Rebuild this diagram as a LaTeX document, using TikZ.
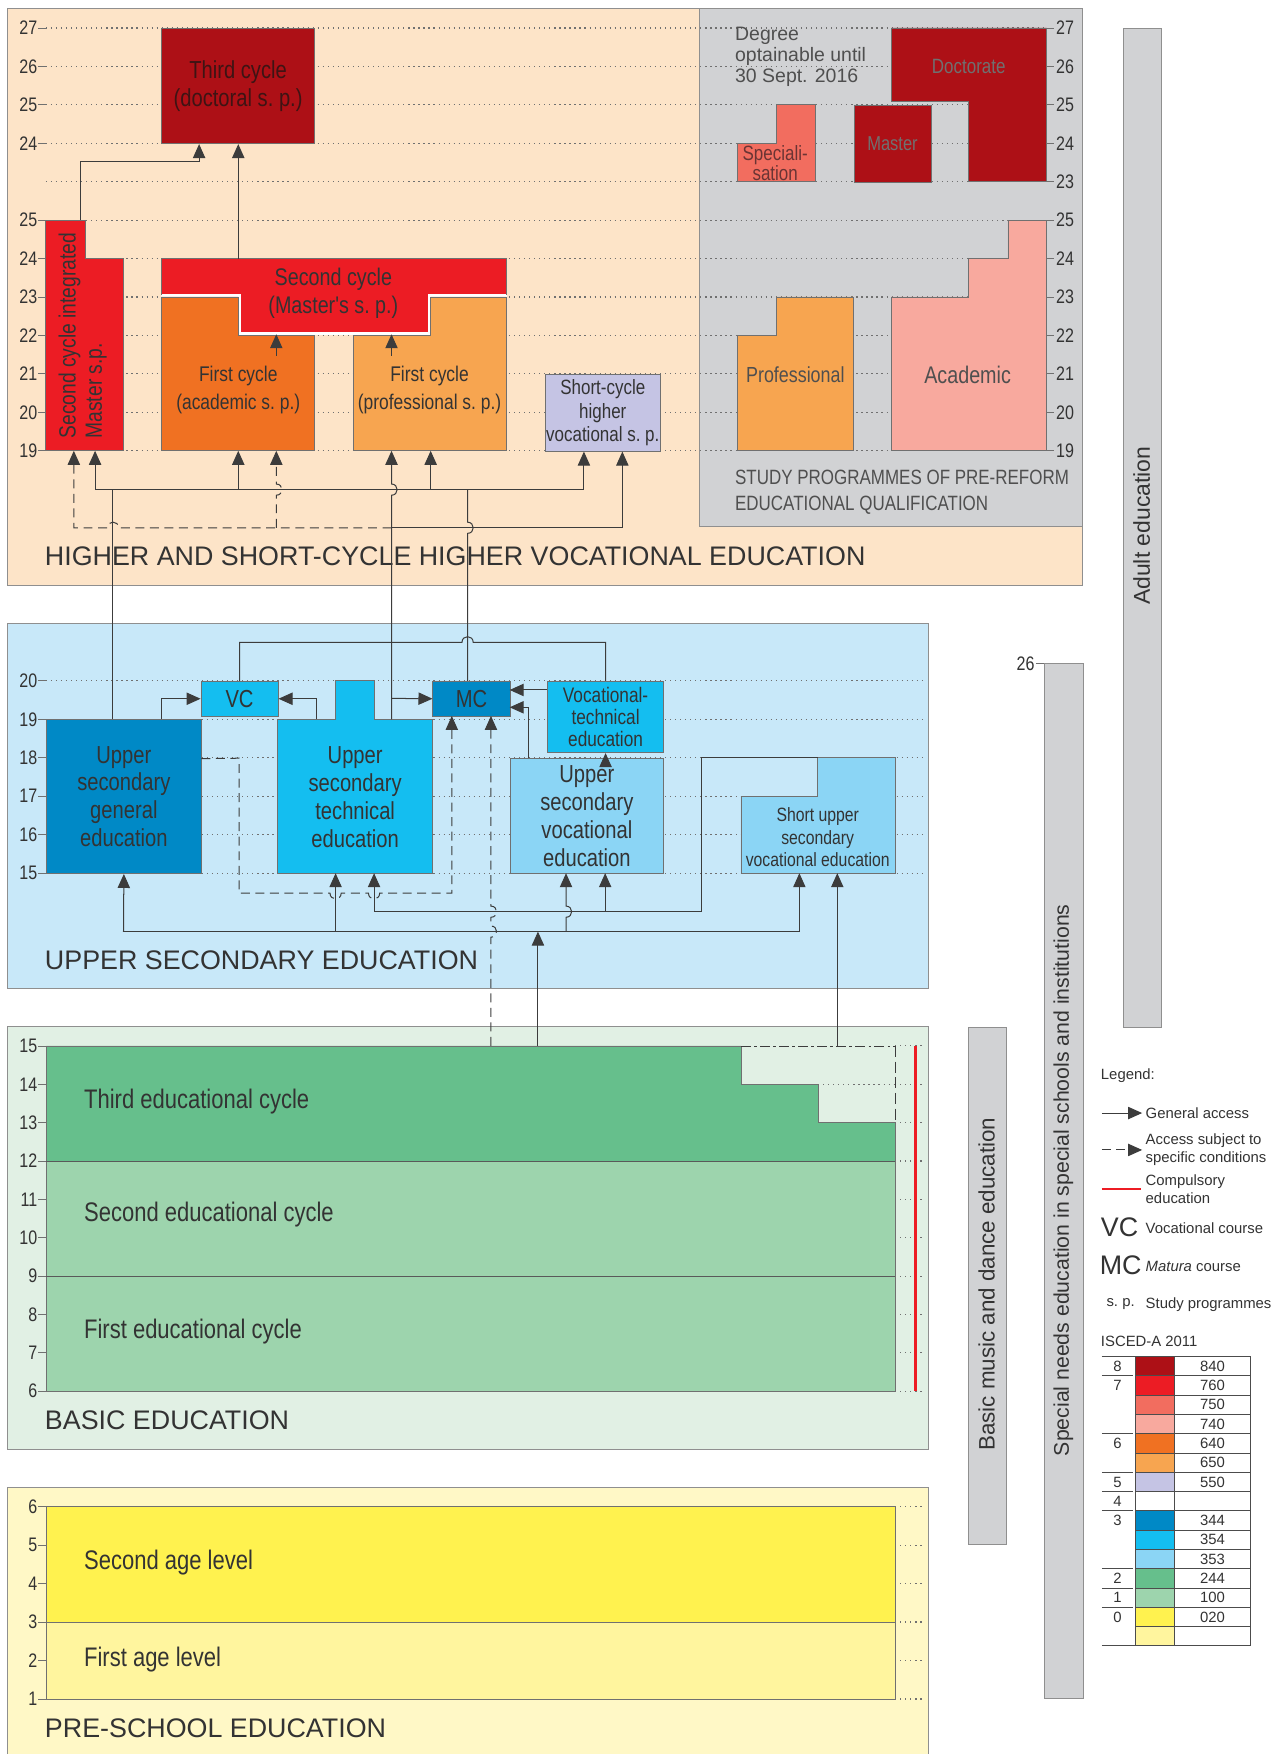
\documentclass[tikz,border=0pt]{standalone}
\usepackage{fontspec}
\setmainfont{Liberation Sans}
\newfontfamily\narrowfam[FakeStretch=0.82]{Liberation Sans}
\usetikzlibrary{arrows.meta,positioning,calc}

\newcommand\nfs[2]{\narrowfam\fontsize{#1}{#2}\selectfont}
\newcommand\pfs[2]{\fontsize{#1}{#2}\selectfont}

% ISCED colours
\definecolor{c840}{HTML}{AD1016}
\definecolor{c760}{HTML}{EC1C24}
\definecolor{c750}{HTML}{F26D5F}
\definecolor{c740}{HTML}{F8A99E}
\definecolor{c640}{HTML}{F07122}
\definecolor{c650}{HTML}{F7A550}
\definecolor{c550}{HTML}{C5C4E4}
\definecolor{c344}{HTML}{0089C6}
\definecolor{c354}{HTML}{14BEF0}
\definecolor{c353}{HTML}{8BD5F5}
\definecolor{c244}{HTML}{66BF8C}
\definecolor{c100}{HTML}{9DD4AD}
\definecolor{c020}{HTML}{FFF24F}
\definecolor{c010}{HTML}{FFF59E}
% backgrounds and lines
\definecolor{bgHigh}{HTML}{FDE4C8}
\definecolor{bgPre}{HTML}{D1D2D4}
\definecolor{bgUpper}{HTML}{C8E8F9}
\definecolor{bgBasic}{HTML}{E1F0E4}
\definecolor{bgSchool}{HTML}{FFF8C6}
\definecolor{txt}{HTML}{333333}
\definecolor{txtgray}{HTML}{4F4F4F}
\definecolor{txtdark}{HTML}{3E1414}
\definecolor{txtmuted}{HTML}{707070}
\definecolor{txtspec}{HTML}{6A3434}
\definecolor{pnl}{HTML}{8F8F8F}
\definecolor{bdr}{HTML}{707070}
\definecolor{lnc}{HTML}{3C3C3C}
\definecolor{dotc}{HTML}{707070}
\definecolor{compred}{HTML}{ED1C24}

\tikzset{
  panel/.style={draw=pnl, line width=0.9pt},
  box/.style={draw=bdr, line width=0.7pt},
  rbox/.style={box, anchor=north west, inner sep=0pt, align=center, text=txt},
  lbl/.style={align=center, text=txt, inner sep=0pt},
  ageline/.style={draw=dotc, line width=1pt, dash pattern=on 1.1pt off 3.4pt},
  agetick/.style={draw=dotc, line width=0.7pt},
  agelab/.style={font=\nfs{17.5}{18}, text=txt, inner sep=0pt},
  head/.style={text=txt, anchor=west, inner sep=0pt, font=\pfs{24}{24}},
  lnk/.style={draw=lnc, line width=0.9pt},
  conn/.style={lnk, -{Triangle[length=12.5pt,width=11pt]}},
  cdash/.style={dash pattern=on 8pt off 5pt},
  compul/.style={draw=compred, line width=2.4pt},
  sidebar/.style={draw=pnl, fill=bgPre, line width=0.9pt, anchor=north west, inner sep=0pt},
  legtxt/.style={font=\pfs{13.3}{16}, text=txt, anchor=west, inner sep=0pt, align=left},
  tabline/.style={draw=black!70, line width=0.6pt},
}

\begin{document}
\begin{tikzpicture}[x=1pt,y=-1pt]
\useasboundingbox (0,0) rectangle (1146,1568);
\fill[white] (0,0) rectangle (1146,1568);

% Panels
\draw[panel, fill=bgHigh] (7,8) rectangle (968,523);
\draw[panel, fill=bgPre] (625,8) rectangle (968,471);
\draw[panel, fill=bgUpper] (7,557) rectangle (830,884);
\draw[panel, fill=bgBasic] (7,918) rectangle (830,1296);
\draw[panel, fill=bgSchool] (7,1330) rectangle (830,1600);

% Side bars
\node[sidebar, minimum width=34pt, minimum height=893pt] (adult) at (1004,25) {};
\node[rotate=90, font=\pfs{20.5}{20}, text=txt] (adultlab) at (1020.5,470) {Adult education};
\node[sidebar, minimum width=35pt, minimum height=925pt] (special) at (933,593) {};
\node[rotate=90, font=\pfs{19}{19}, text=txt] (speciallab) at (950.5,1055) {Special needs education in special schools and institutions};
\draw[agetick] (926,593) -- (special.north west);
\node[agelab, anchor=east] (age26) at (925,593) {26};
\node[sidebar, minimum width=34pt, minimum height=462pt] (music) at (865,918) {};
\node[rotate=90, font=\pfs{20}{20}, text=txt] (musiclab) at (882,1148) {Basic music and dance education};

% Age rows: higher education
\foreach \y in {25,59.4,93.7,128.1,162.4,196.8,231.2,265.5,299.9,334.2,368.6,403}
  \draw[ageline] (41,\y) -- (935.7,\y);
\foreach \y/\a in {25/27,59.4/26,93.7/25,128.1/24,196.8/25,231.2/24,265.5/23,299.9/22,334.2/21,368.6/20,403/19}{
  \draw[agetick] (34,\y) -- (41,\y);
  \node[agelab, anchor=east] at (33.5,\y) {\a};
}
\foreach \y/\a in {25/27,59.4/26,93.7/25,128.1/24,162.4/23,196.8/25,231.2/24,265.5/23,299.9/22,334.2/21,368.6/20,403/19}{
  \draw[agetick] (935.7,\y) -- (942,\y);
  \node[agelab, anchor=west] at (944,\y) {\a};
}

% Higher education programmes
\node[rbox, fill=c840, text=txtdark, minimum width=137pt, minimum height=103.1pt, font=\nfs{22}{25}] (third) at (144,25) {Third cycle\\(doctoral s.\ p.)};
\filldraw[box, fill=c760] (41,196.8) -- (76,196.8) -- (76,231.2) -- (110,231.2) -- (110,403) -- (41,403) -- cycle;
\node[lbl, rotate=90, align=left, font=\nfs{21}{23.5}] (integ) at (74,300) {Second cycle integrated\\Master s.p.};
\fill[c760] (144,231.2) -- (453,231.2) -- (453,264) -- (383.5,264) -- (383.5,298.4) -- (214.5,298.4) -- (214.5,264) -- (144,264) -- cycle;
\draw[white, line width=2.4pt] (144,264) -- (214.5,264) -- (214.5,298.4) -- (383.5,298.4) -- (383.5,264) -- (453,264);
\draw[box] (144,264) -- (144,231.2) -- (453,231.2) -- (453,264);
\node[lbl, font=\nfs{21.5}{25}] (second) at (298,262.5) {Second cycle\\(Master's s.\ p.)};
\filldraw[box, fill=c640] (144,265.5) -- (213,265.5) -- (213,299.9) -- (281,299.9) -- (281,403) -- (144,403) -- cycle;
\node[lbl, font=\nfs{19}{25}] (firstac) at (213,348.5) {First cycle\\(academic s.\ p.)};
\filldraw[box, fill=c650] (316,299.9) -- (385,299.9) -- (385,265.5) -- (453,265.5) -- (453,403) -- (316,403) -- cycle;
\node[lbl, font=\nfs{19}{25}] (firstpr) at (384,348.5) {First cycle\\(professional s.\ p.)};
\node[rbox, fill=c550, minimum width=103pt, minimum height=68.8pt, font=\nfs{18.5}{21}] (short) at (487,334.2) {Short-cycle\\higher\\vocational s.\ p.};

% Pre-reform study programmes
\filldraw[box, fill=c840] (797,25) -- (935.7,25) -- (935.7,162.4) -- (866,162.4) -- (866,91) -- (797,91) -- cycle;
\node[lbl, text=txtmuted, font=\nfs{18.5}{22}] (doct) at (866,59) {Doctorate};
\node[rbox, fill=c840, text=txtmuted, minimum width=69pt, minimum height=68.7pt, font=\nfs{18}{22}] (mast) at (763,93.7) {Master};
\filldraw[box, fill=c750] (694,93.7) -- (728.6,93.7) -- (728.6,162.4) -- (659,162.4) -- (659,128.1) -- (694,128.1) -- cycle;
\node[lbl, text=txtspec, font=\nfs{18.5}{16}] (spec) at (693,146) {Speciali-\\sation};
\node[lbl, anchor=west, align=left, text=txtgray, font=\pfs{17.4}{19}] (degree) at (657,51) {Degree\\optainable until\\30 Sept. 2016};
\filldraw[box, fill=c650] (659,299.9) -- (694,299.9) -- (694,265.5) -- (763,265.5) -- (763,403) -- (659,403) -- cycle;
\node[lbl, font=\nfs{19.5}{24}, text=txtgray] (prof) at (711,335) {Professional};
\filldraw[box, fill=c740] (797,265.5) -- (866,265.5) -- (866,231.2) -- (901,231.2) -- (901,196.8) -- (935.7,196.8) -- (935.7,403) -- (797,403) -- cycle;
\node[lbl, font=\nfs{21.5}{24}, text=txtgray] (acad) at (865,335) {Academic};
\node[lbl, anchor=west, align=left, font=\nfs{18.5}{24}, text=txtgray] (prenote) at (657,440) {STUDY PROGRAMMES OF PRE-REFORM\\EDUCATIONAL QUALIFICATION};
\node[head] (hhigher) at (40,497) {HIGHER AND SHORT-CYCLE HIGHER VOCATIONAL EDUCATION};

% Age rows: upper secondary
\foreach \y/\a in {608.6/20,643/19,677.4/18,711.8/17,746.2/16,780.6/15}{
  \draw[ageline] (41,\y) -- (826,\y);
  \draw[agetick] (34,\y) -- (41,\y);
  \node[agelab, anchor=east] at (33.5,\y) {\a};
}

% Upper secondary programmes
\node[rbox, fill=c344, minimum width=137.8pt, minimum height=137.6pt, font=\nfs{22}{25}] (usg) at (41.5,643) {Upper\\secondary\\general\\education};
\node[rbox, fill=c354, minimum width=69pt, minimum height=31.4pt, font=\nfs{22}{24}] (vc) at (179.3,608.6) {VC};
\filldraw[box, fill=c354] (248.3,643) -- (300,643) -- (300,608.6) -- (334.4,608.6) -- (334.4,643) -- (386.6,643) -- (386.6,780.6) -- (248.3,780.6) -- cycle;
\node[lbl, font=\nfs{22}{25}] (ust) at (317.5,712.5) {Upper\\secondary\\technical\\education};
\node[rbox, fill=c344, minimum width=69pt, minimum height=31.4pt, font=\nfs{22}{24}] (mc) at (386.6,608.6) {MC};
\node[rbox, fill=c354, minimum width=104pt, minimum height=63.9pt, font=\nfs{18.8}{20}] (vt) at (489,608.6) {Vocational-\\technical\\education};
\node[rbox, fill=c353, minimum width=137.4pt, minimum height=103.2pt, font=\nfs{22}{25}] (usv) at (455.6,677.4) {Upper\\secondary\\vocational\\education};
\filldraw[box, fill=c353] (662.4,711.8) -- (731,711.8) -- (731,677.4) -- (800,677.4) -- (800,780.6) -- (662.4,780.6) -- cycle;
\node[lbl, font=\nfs{17.2}{20}] (suv) at (731,748.5) {Short upper\\secondary\\vocational education};
\node[head] (hupper) at (40,858) {UPPER SECONDARY EDUCATION};

% Age rows: basic education
\foreach \y/\a in {935/15,969.3/14,1003.6/13,1037.9/12,1072.2/11,1106.5/10,1140.8/9,1175.1/8,1209.4/7,1243.7/6}{
  \draw[ageline] (800.2,\y) -- (826,\y);
  \draw[agetick] (34,\y) -- (41.5,\y);
  \node[agelab, anchor=east] at (33.5,\y) {\a};
}
\draw[ageline] (731.3,969.3) -- (800.2,969.3);

% Basic education
\filldraw[box, fill=c244] (41.5,935) -- (662.4,935) -- (662.4,969.3) -- (731.3,969.3) -- (731.3,1003.6) -- (800.2,1003.6) -- (800.2,1037.9) -- (41.5,1037.9) -- cycle;
\filldraw[box, fill=c100] (41.5,1037.9) rectangle (800.2,1243.7);
\draw[box, draw=black!65] (41.5,1037.9) -- (800.2,1037.9) (41.5,1140.8) -- (800.2,1140.8);
\draw[lnk, line width=0.7pt, dash pattern=on 9pt off 3pt on 2pt off 3pt] (662.4,935) -- (800.2,935);
\draw[lnk, line width=0.7pt, dash pattern=on 10pt off 4pt] (800.2,935) -- (800.2,1003.6);
\draw[compul] (818.5,935) -- (818.5,1243.7);
\node[lbl, anchor=west, font=\nfs{24}{24}] (bc3) at (75,985) {Third educational cycle};
\node[lbl, anchor=west, font=\nfs{24}{24}] (bc2) at (75,1086) {Second educational cycle};
\node[lbl, anchor=west, font=\nfs{24}{24}] (bc1) at (75,1190) {First educational cycle};
\node[head] (hbasic) at (40,1270) {BASIC EDUCATION};

% Pre-school education
\foreach \y/\a in {1346.8/6,1381.2/5,1415.6/4,1450/3,1484.4/2,1518.8/1}{
  \draw[ageline] (800.2,\y) -- (826,\y);
  \draw[agetick] (34,\y) -- (41.5,\y);
  \node[agelab, anchor=east] at (33.5,\y) {\a};
}
\filldraw[box, fill=c020] (41.5,1346.8) rectangle (800.2,1450);
\filldraw[box, fill=c010] (41.5,1450) rectangle (800.2,1518.8);
\node[lbl, anchor=west, font=\nfs{24}{24}] (age2) at (75,1397) {Second age level};
\node[lbl, anchor=west, font=\nfs{24}{24}] (age1) at (75,1484) {First age level};
\node[head] (hschool) at (40,1545) {PRE-SCHOOL EDUCATION};

% ---------- connectors: higher education
\coordinate (intTop) at (72,196.8);
\coordinate (k1) at (178,144.7);
\coordinate (secTop) at (213,231.2);
\draw[conn] (intTop) |- (k1) -- (k1 |- third.south);
\draw[conn] (secTop) -- (secTop |- third.south);
\draw[conn] (247,318) -- (247,298.8);
\draw[conn] (350,318) -- (350,298.8);

% bus from general upper secondary
\coordinate (busA) at (85,437.7);
\coordinate (busAend) at (522,437.7);
\coordinate (lnA) at (101,437.7);
\draw[lnk] (busA) -- (busAend);
\draw[lnk] (usg.north -| lnA) -- (lnA);
\draw[conn] (busA) -- (85,403);
\draw[conn] (213,437.7) -- (213,403);
\draw[conn] (385,437.7) -- (385,403);
\draw[conn] (busAend) -- (busAend |- short.south);

% line from technical education
\coordinate (ustR) at (350,643);
\coordinate (bB) at (350,471.8);
\draw[conn] (ustR) -- (350,442.7) .. controls (356.7,442.7) and (356.7,432.7) .. (350,432.7) -- (350,403);
\draw[conn] (bB) -| ([xshift=17.5pt]short.south);
\draw[conn, cdash] (bB) -- (106,471.8) .. controls (106,465.1) and (96,465.1) .. (96,471.8) -- (66,471.8) -- (66,403);
\draw[conn, cdash] (247,471.8) -- (247,442.7) .. controls (253.7,442.7) and (253.7,432.7) .. (247,432.7) -- (247,403);

% line from Matura course
\coordinate (mcL) at (418,437.7);
\draw[lnk] (mc.north -| mcL) -- (418,476.8) .. controls (424.7,476.8) and (424.7,466.8) .. (418,466.8) -- (mcL);

% ---------- connectors: upper secondary
\draw[conn] (144.3,643) |- (vc.west);
\draw[conn] (282.7,643) |- (vc.east);
\draw[conn] (350,624.3) -- (mc.west);
\coordinate (mcE1) at (455.6,616.8);
\coordinate (mcE2) at (455.6,632.3);
\draw[conn] (vt.west |- mcE1) -- (mcE1);
\draw[conn] (472.8,677.4) |- (mcE2);
\draw[conn] ([yshift=-7pt]vt.south) -- (vt.south);
\draw[lnk] (vc.north) |- (413,574.2) .. controls (413,567.5) and (423,567.5) .. (423,574.2) -| (vt.north);

% access subject to conditions
\draw[conn, cdash] ([yshift=34pt]usg.east) -- (213.8,677.8) -- (213.8,798.5) -- (295,798.5) .. controls (295,805.2) and (305,805.2) .. (305,798.5) -- (329.4,798.5) .. controls (329.4,805.2) and (339.4,805.2) .. (339.4,798.5) -- (403.9,798.5) -- (403.9,640);
\draw[conn, cdash] (438.9,935) -- (438.9,837.8) .. controls (445.6,837.8) and (445.6,827.8) .. (438.9,827.8) -- (438.9,820) .. controls (445.6,820) and (445.6,810) .. (438.9,810) -- (438.9,640);

% general access from basic education
\draw[conn] (480.9,935) -- (480.9,832.8);
\draw[lnk] (110.4,832.8) -- (714.6,832.8);
\draw[conn] (110.4,832.8) -- (usg.south);
\draw[conn] (300,832.8) -- (300,780.6);
\draw[conn] (506,832.8) -- (506,820) .. controls (512.7,820) and (512.7,810) .. (506,810) -- (506,780.6);
\draw[conn] (714.6,832.8) -- (714.6,780.6);
\draw[lnk] (334.4,815) -- (627.4,815) |- (731,677.6);
\draw[conn] (334.4,815) -- (334.4,780.6);
\draw[conn] (541,815) -- (541,780.6);
\draw[conn] (748.5,935) -- (748.5,780.6);

% ---------- legend
\node[legtxt] (leg) at (984,962) {Legend:};
\node[legtxt] (lga) at (1024,995) {General access};
\draw[conn] ([xshift=-39pt]lga.west) -- ([xshift=-3pt]lga.west);
\node[legtxt] (lgb) at (1024,1028) {Access subject to\\specific conditions};
\draw[conn, dash pattern=on 8pt off 5pt] ([xshift=-39pt]lgb.west) -- ([xshift=-3pt]lgb.west);
\node[legtxt] (lgc) at (1024,1063) {Compulsory\\education};
\draw[compul] ([xshift=-39pt]lgc.west) -- ([xshift=-4pt]lgc.west);
\node[legtxt, font=\pfs{24}{24}] (lgvc) at (984,1097) {VC};
\node[legtxt] (lgvct) at (1024,1098) {Vocational course};
\node[legtxt, font=\pfs{24}{24}] (lgmc) at (983,1131) {MC};
\node[legtxt] (lgmct) at (1024,1132) {\textit{Matura} course};
\node[legtxt] (lgsp) at (989,1166) {s.\ p.};
\node[legtxt] (lgspt) at (1024,1166) {Study programmes};
\node[legtxt] (isced) at (984,1199) {ISCED-A 2011};

\foreach \c/\code [count=\i from 0] in {c840/840,c760/760,c750/750,c740/740,c640/640,c650/650,c550/550,white/{},c344/344,c354/354,c353/353,c244/244,c100/100,c020/020,c010/{}}{
  \pgfmathsetmacro\yt{1212.6+17.24*\i}
  \filldraw[tabline, fill=\c] (1015,\yt) rectangle (1050,\yt+17.24);
  \draw[tabline] (1050,\yt+17.24) -- (1118,\yt+17.24);
  \node[font=\pfs{13.3}{13}, text=txt, inner sep=0pt] at (1084,\yt+8.8) {\code};
}
\foreach \l/\i in {8/0,7/1,6/4,5/6,4/7,3/8,2/11,1/12,0/13}{
  \pgfmathsetmacro\yt{1212.6+17.24*\i}
  \draw[tabline] (985,\yt) -- (1013,\yt);
  \node[font=\pfs{13.3}{13}, text=txt, inner sep=0pt] at (999,\yt+8.8) {\l};
}
\draw[tabline] (985,1212.6) -- (1118,1212.6);
\draw[tabline] (985,1471.2) -- (1118,1471.2);
\draw[tabline] (1118,1212.6) -- (1118,1471.2);
\end{tikzpicture}
\end{document}
